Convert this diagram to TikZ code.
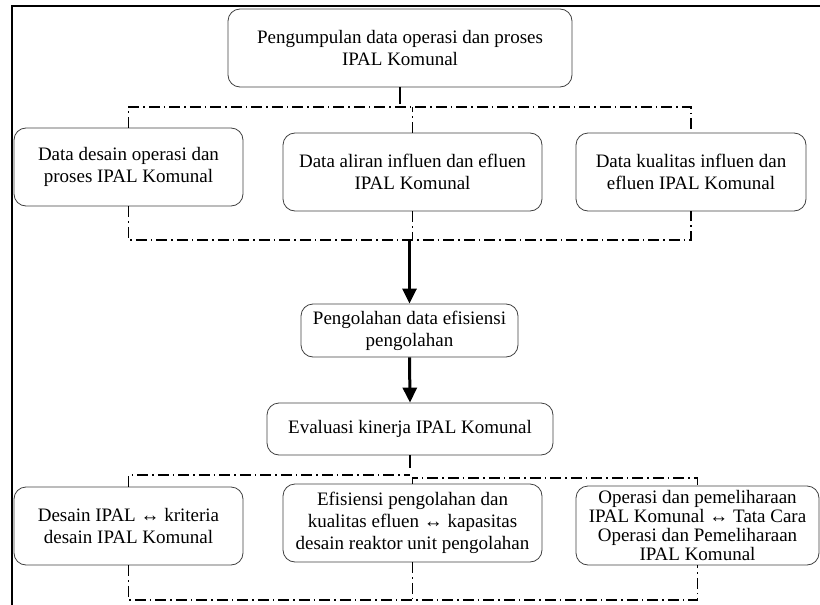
\documentclass[tikz,border=0pt]{standalone}
\usepackage{fontspec}
\setmainfont{Liberation Serif}
\usetikzlibrary{arrows.meta}
\tikzset{
    kotak/.style={draw=black!75, thick, rounded corners=12pt, align=center, inner sep=0pt,
        font=\fontsize{19}{22}\selectfont},
    garis/.style={line width=1.3pt, dash pattern=on 11pt off 4pt on 1.5pt off 4pt},
    tegak/.style={line width=1.3pt},
    panah/.style={line width=3pt, -{Triangle[length=15pt,width=14pt]}},
}
\begin{document}
\begin{tikzpicture}[x=1pt,y=-1pt]
    \useasboundingbox (0,0) rectangle (820,605);
    % bingkai
    \draw[line width=2pt] (12,606) -- (12,6) -- (820,6);

    % kotak-kotak
    \node[kotak, minimum width=344pt, minimum height=78pt] (kumpul) at (400,48)
        {Pengumpulan data operasi dan proses\\IPAL Komunal};
    \node[kotak, minimum width=229pt, minimum height=78pt] (desaindata) at (128.5,167)
        {Data desain operasi dan\\proses IPAL Komunal};
    \node[kotak, minimum width=259pt, minimum height=78pt] (aliran) at (412.5,172)
        {Data aliran influen dan efluen\\IPAL Komunal};
    \node[kotak, minimum width=230pt, minimum height=78pt] (kualitas) at (691,172)
        {Data kualitas influen dan\\efluen IPAL Komunal};
    \node[kotak, minimum width=217pt, minimum height=53pt] (olah) at (409.5,330.5)
        {Pengolahan data efisiensi\\pengolahan};
    \node[kotak, minimum width=286pt, minimum height=52pt] (evaluasi) at (410,429)
        {Evaluasi kinerja IPAL Komunal};
    \node[kotak, minimum width=229pt, minimum height=78pt] (desain) at (128.5,526)
        {Desain IPAL ↔ kriteria\\desain IPAL Komunal};
    \node[kotak, minimum width=259pt, minimum height=78pt] (efisiensi) at (412.5,523)
        {Efisiensi pengolahan dan\\kualitas efluen ↔ kapasitas\\desain reaktor unit pengolahan};
    \node[kotak, minimum width=243pt, minimum height=79pt,
        font=\fontsize{19}{19}\selectfont] (operasi) at (697.5,525.5)
        {Operasi dan pemeliharaan\\IPAL Komunal ↔ Tata Cara\\Operasi dan Pemeliharaan\\IPAL Komunal};

    % garis atas
    \draw[tegak] (kumpul.south) -- (kumpul.south |- 0,104);
    \draw[garis] (desaindata.north) -- (desaindata.north |- 0,107)
        -- (kualitas.north |- 0,107) -- (kualitas.north);
    \draw[garis] (aliran.north) -- (aliran.north |- 0,107);
    \draw[garis] (desaindata.south) -- (desaindata.south |- 0,240)
        -- (kualitas.south |- 0,240) -- (kualitas.south);
    \draw[garis] (aliran.south) -- (aliran.south |- 0,240);

    % panah
    \draw[panah] (olah.north |- 0,240) -- (olah.north);
    \draw[panah] (olah.south) -- (evaluasi.north);

    % garis bawah
    \draw[tegak] (evaluasi.south) -- (evaluasi.south |- 0,468);
    \draw[garis] (desain.north) -- (desain.north |- 0,475) -- (evaluasi.south |- 0,475);
    \draw[garis] (efisiensi.north) -- (efisiensi.north |- 0,478)
        -- (operasi.north |- 0,478) -- (operasi.north);
    \draw[garis] (desain.south) -- (desain.south |- 0,600)
        -- (operasi.south |- 0,600) -- (operasi.south);
    \draw[garis] (efisiensi.south) -- (efisiensi.south |- 0,600);
\end{tikzpicture}
\end{document}
